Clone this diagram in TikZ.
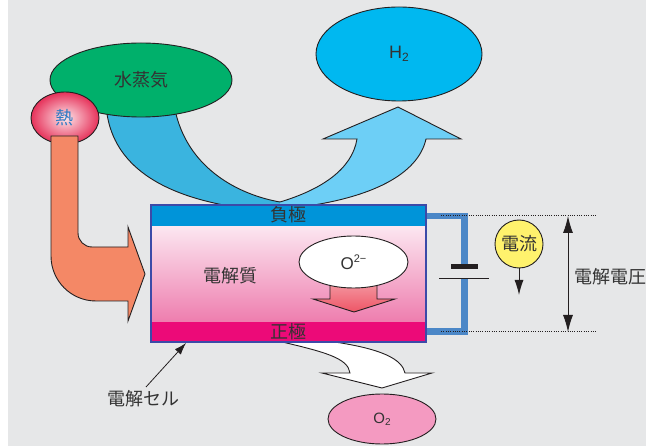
\documentclass[tikz,border=0pt]{standalone}
\usepackage{fontspec}
\setmainfont{Liberation Sans}
\newfontfamily\jp{Noto Sans CJK JP}
\usetikzlibrary{shapes.geometric,arrows.meta}
\definecolor{bg}{HTML}{E6E7E8}
\definecolor{ink}{HTML}{231F20}
\definecolor{txt}{HTML}{333333}
\definecolor{steamgreen}{HTML}{00B06B}
\definecolor{heatin}{HTML}{FDE6EA}
\definecolor{heatout}{HTML}{E6325A}
\definecolor{heattxt}{HTML}{2E7BC4}
\definecolor{salmon}{HTML}{F48866}
\definecolor{steamblue}{HTML}{3AB4DF}
\definecolor{hband}{HTML}{6DCFF6}
\definecolor{hblue}{HTML}{00B8F0}
\definecolor{negc}{HTML}{0094D9}
\definecolor{posc}{HTML}{EC0A78}
\definecolor{celltop}{HTML}{FCE7F1}
\definecolor{cellbot}{HTML}{EE7DAE}
\definecolor{cellborder}{HTML}{3C4AA8}
\definecolor{arrtop}{HTML}{F8C6CB}
\definecolor{arrbot}{HTML}{EE5566}
\definecolor{wirec}{HTML}{4B87C7}
\definecolor{curyellow}{HTML}{FFF26D}
\definecolor{otwo}{HTML}{F49AC1}
\tikzset{
  edge/.style={draw=ink, line width=0.9pt},
  jpt/.style={font=\jp\fontsize{18}{20}\selectfont, text=txt},
  blob/.style={ellipse, draw=ink, line width=0.9pt, inner sep=0pt},
  wire/.style={draw=wirec, line width=6.5pt},
  dotline/.style={draw=ink, line width=1pt, dash pattern=on 1pt off 1.3pt},
}
\begin{document}
\begin{tikzpicture}[x=1pt,y=-1pt,line join=miter]
\useasboundingbox (0,0) rectangle (646,446);
\fill[white] (0,0) rectangle (646,446);
\fill[bg] (8,0) rectangle (646,446);

% steam band
\fill[steamblue] (107,100) -- (107,114) .. controls (115,165) and (160,195) .. (235,207)
  -- (235,215) -- (285,215) -- (280,202) .. controls (240,195) and (190,170) .. (176,114) -- (176,100) -- cycle;
\draw[edge] (107,114) .. controls (115,165) and (160,195) .. (235,207);
\draw[edge] (280,202) .. controls (240,195) and (190,170) .. (176,114);
% H2 band
\fill[hband] (280,202) .. controls (320,190) and (352,170) .. (357,139) -- (323,139) -- (398,107)
  -- (461,139) -- (426,139) .. controls (418,175) and (370,198) .. (300,207) -- (300,215) -- (280,215) -- cycle;
\draw[edge] (280,202) .. controls (320,190) and (352,170) .. (357,139) -- (323,139) -- (398,107)
  -- (461,139) -- (426,139) .. controls (418,175) and (370,198) .. (300,207);

% ellipses top-left
\node[blob, fill=steamgreen, minimum width=182pt, minimum height=74pt, jpt] (steam) at (141,80) {水蒸気};
\node[blob, shading=radial, inner color=heatin, outer color=heatout, minimum width=68pt, minimum height=52pt,
  font=\jp\fontsize{18}{20}\selectfont, text=heattxt] (heat) at (65,118) {熱};

% heat arrow
\filldraw[edge, fill=salmon] (51,136) -- (78,136) -- (78,233) .. controls (78,240.7) and (84.3,247) .. (92,247)
  -- (128,247) -- (128,227) -- (145,274) -- (128,321) -- (128,301) -- (96,301)
  .. controls (71.1,301) and (51,280.9) .. (51,256) -- cycle;

% H2 ellipse
\node[blob, fill=hblue, minimum width=166pt, minimum height=94pt] (h2) at (399,54)
  {\fontsize{18}{18}\selectfont\color{txt}H\raisebox{-0.3ex}{\fontsize{12}{12}\selectfont 2}};

% O2 white arrow
\fill[white] (278,338) -- (278,341) .. controls (325,352) and (348,358) .. (350,373) -- (322,373) -- (382,388)
  -- (432,373) -- (405,373) .. controls (402,360) and (385,348) .. (320,340) -- (320,338) -- cycle;
\draw[edge] (278,341) .. controls (325,352) and (348,358) .. (350,373) -- (322,373) -- (382,388)
  -- (432,373) -- (405,373) .. controls (402,360) and (385,348) .. (320,340);
\node[blob, fill=otwo, minimum width=108pt, minimum height=50pt] (o2) at (382,419)
  {\fontsize{15}{15}\selectfont\color{txt}O\raisebox{-0.3ex}{\fontsize{10}{10}\selectfont 2}};

% cell
\shade[top color=celltop, bottom color=cellbot] (151,226) rectangle (426,322);
\fill[negc] (151,205) rectangle (426,226);
\fill[posc] (151,322) rectangle (426,342);
\draw[draw=cellborder, line width=1.2pt] (151,205) rectangle (426,342);
\node[jpt] (neg) at (288.5,215) {負極};
\node[jpt] (pos) at (288.5,332) {正極};
\node[jpt] (elec) at (230,276) {電解質};

% O2- arrow and ellipse
\shadedraw[top color=arrtop, bottom color=arrbot, draw=ink, line width=0.9pt]
  (330,262) -- (377,262) -- (377,299) -- (395,299) -- (354,312) -- (313,299) -- (330,299) -- cycle;
\node[blob, fill=white, minimum width=109pt, minimum height=52pt] (ion) at (353.5,262)
  {\fontsize{17}{17}\selectfont\color{txt}O\raisebox{0.75ex}{\fontsize{11}{11}\selectfont 2−}};

% wires and battery
\draw[wire] (426.6,216) -- (464.5,216) -- (464.5,264);
\draw[wire] (464.5,279) -- (464.5,331.5) -- (426.6,331.5);
\fill[ink] (451,264) rectangle (478,269);
\draw[ink, line width=1.5pt] (439,278.5) -- (489,278.5);

% voltage
\coordinate (vtop) at (568,216);
\coordinate (vbot) at (568,332);
\draw[dotline] (441,216) -- (597,216);
\draw[dotline] (441,332) -- (597,332);
\draw[ink, line width=1pt, {Latex[length=17pt,width=10pt]}-{Latex[length=17pt,width=10pt]}] (vtop) -- (vbot);
\node[jpt, anchor=west, inner sep=0pt] (volt) at (574,277) {電解電圧};

% current
\node[circle, draw=ink, line width=0.9pt, fill=curyellow, minimum size=48pt, inner sep=0pt, jpt] (cur) at (519,244) {電流};
\coordinate (curend) at (519,295);
\draw[ink, line width=1pt, -{Latex[length=15pt,width=9pt]}] (cur.south) -- (curend);

% cell label
\node[jpt] (celllbl) at (143,399) {電解セル};
\coordinate (lblpt) at (146,387);
\coordinate (cellpt) at (186,343);
\draw[ink, line width=0.8pt, -{Latex[length=12pt,width=8pt]}] (lblpt) -- (cellpt);
\end{tikzpicture}
\end{document}
